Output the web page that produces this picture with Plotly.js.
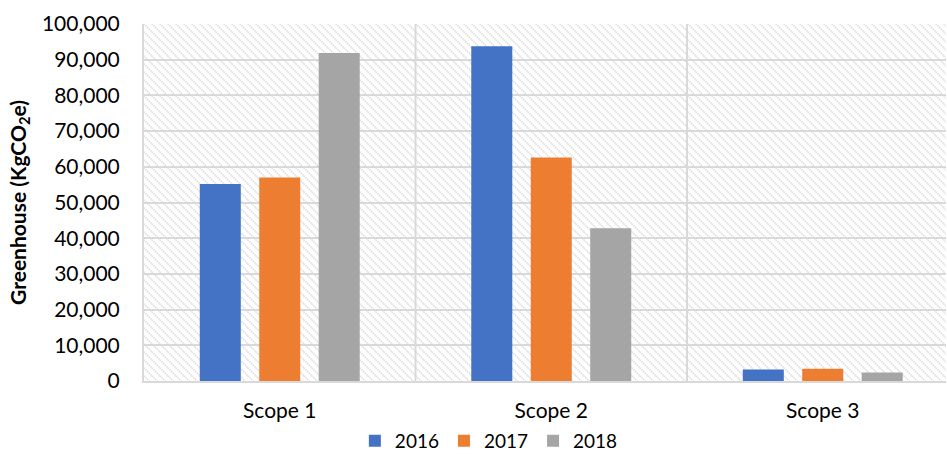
<!DOCTYPE html>
<html>
<head>
<meta charset="utf-8">
<script src="https://cdn.plot.ly/plotly-3.0.1.min.js"></script>
<style>html,body{margin:0;padding:0;background:#fff;}#chart{width:947px;height:457px;}</style>
</head>
<body>
<div id="chart"></div>
<script>
const categories = ['Scope 1', 'Scope 2', 'Scope 3'];
const years = ['2016', '2017', '2018'];
const values2016 = [55200, 93800, 3200];
const values2017 = [57000, 62600, 3400];
const values2018 = [91900, 42800, 2350];
const yTickVals = [0, 10000, 20000, 30000, 40000, 50000, 60000, 70000, 80000, 90000, 100000];
const yTickText = ['0', '10,000', '20,000', '30,000', '40,000', '50,000', '60,000', '70,000', '80,000', '90,000', '100,000'];
const colors = ['#4472C4', '#ED7D31', '#A5A5A5'];
const series = [values2016, values2017, values2018];

const FONT = 'Lato, "Open Sans", sans-serif';

const traces = series.map((vals, i) => ({
  type: 'bar',
  name: years[i],
  x: categories,
  y: vals,
  marker: {color: colors[i], line: {width: 0}},
  hoverinfo: 'x+y+name'
}));

// hatch background
const W = 802, H = 357;
const svg = `<svg xmlns="http://www.w3.org/2000/svg" width="${W}" height="${H}" viewBox="0 0 ${W} ${H}">` +
  `<defs><pattern id="p" patternUnits="userSpaceOnUse" width="8" height="8">` +
  `<path d="M-2,-2 L10,10 M-2,6 L2,10 M6,-2 L10,2" stroke="#d8d8d8" stroke-width="1.6" stroke-dasharray="1.4,1"/>` +
  `</pattern></defs><rect width="${W}" height="${H}" fill="url(#p)"/></svg>`;
const hatch = 'data:image/svg+xml;charset=utf-8,' + encodeURIComponent(svg);

const layout = {
  width: 947,
  height: 457,
  margin: {l: 144, r: 1, t: 24, b: 76, pad: 0},
  paper_bgcolor: '#ffffff',
  plot_bgcolor: 'rgba(0,0,0,0)',
  font: {family: FONT, size: 20, color: '#000'},
  barmode: 'group',
  bargap: 0.343,
  bargroupgap: 0.31,
  showlegend: true,
  legend: {
    orientation: 'h',
    xref: 'paper', x: 0.43, xanchor: 'center',
    yref: 'container', y: 0.035, yanchor: 'middle',
    font: {family: FONT, size: 19, color: '#000'},
    itemclick: false, itemdoubleclick: false,
    traceorder: 'normal'
  },
  xaxis: {
    type: 'category',
    range: [-0.5, 2.454],
    showgrid: false,
    showline: true, linecolor: '#d9d9d9', linewidth: 2,
    ticks: 'outside', ticklen: 10, tickcolor: 'rgba(0,0,0,0)',
    tickfont: {family: FONT, size: 21, color: '#000'},
    fixedrange: true
  },
  yaxis: {
    range: [0, 100000],
    tickvals: yTickVals,
    ticktext: yTickText,
    showgrid: true, gridcolor: '#d9d9d9', gridwidth: 2,
    zeroline: false,
    showline: true, linecolor: '#d9d9d9', linewidth: 2,
    ticks: 'outside', ticklen: 18, tickcolor: 'rgba(0,0,0,0)',
    tickfont: {family: FONT, size: 21, color: '#000'},
    title: {text: '<b>Greenhouse (KgCO<sub>2</sub>e)</b>', font: {family: FONT, size: 21, color: '#000'}, standoff: 10},
    fixedrange: true
  },
  images: [{
    source: hatch, xref: 'paper', yref: 'paper', x: 0, y: 1, sizex: 1, sizey: 1,
    xanchor: 'left', yanchor: 'top', sizing: 'stretch', layer: 'below'
  }],
  shapes: [0.5, 1.5].map(v => ({
    type: 'line', xref: 'x', yref: 'paper', x0: v, x1: v, y0: 0, y1: 1,
    line: {color: '#d9d9d9', width: 2}, layer: 'below'
  }))
};

Plotly.newPlot('chart', traces, layout, {displayModeBar: false, staticPlot: true});
</script>
</body>
</html>
